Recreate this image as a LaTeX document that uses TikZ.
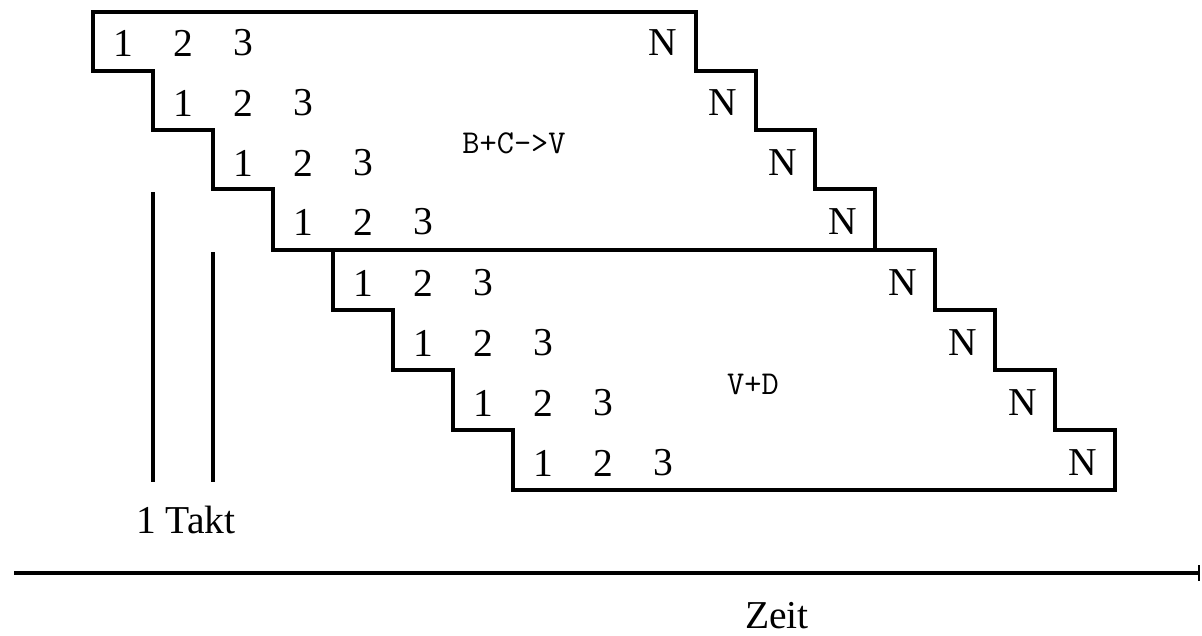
\documentclass[tikz,border=0pt]{standalone}
\usepackage{fontspec}
\setmainfont{Liberation Serif}
\usetikzlibrary{arrows.meta}
\begin{document}
\begin{tikzpicture}[x=0.02cm,y=-0.02cm,
  outline/.style={line width=2.3pt,line join=miter},
  num/.style={font=\fontsize{22.5}{27}\selectfont,inner sep=0pt,anchor=center},
  lbl/.style={font=\ttfamily\fontsize{19}{22}\selectfont,inner sep=0pt,anchor=center},
  tick/.style={line width=1.9pt},
  axis/.style={line width=2.3pt,-{Bar[width=9pt,line width=1.4pt]}}]
\useasboundingbox (0,0) rectangle (1202,635);
% upper block
\draw[outline] (93,12) -- (696,12) -- (696,71) -- (756,71) -- (756,130) -- (815,130) -- (815,189) -- (875,189) -- (875,250) -- (273,250) -- (273,189) -- (213,189) -- (213,130) -- (153,130) -- (153,71) -- (93,71) -- cycle;
% lower block
\draw[outline] (333,250) -- (935,250) -- (935,310) -- (995,310) -- (995,370) -- (1055,370) -- (1055,430) -- (1115,430) -- (1115,490) -- (513,490) -- (513,430) -- (453,430) -- (453,370) -- (393,370) -- (393,310) -- (333,310) -- cycle;
% numbers
\foreach \r/\yy in {0/43,1/103,2/163,3/222,4/283,5/343,6/403,7/463}{
  \pgfmathsetmacro{\xa}{123+60*\r}
  \node[num] (one\r) at (\xa,\yy) {1};
  \node[num] (two\r) at (\xa+60,\yy) {2};
  \node[num] (three\r) at (\xa+120,\yy) {3};
  \node[num] (n\r) at (\xa+540,\yy) {N};
}
\node[lbl] (bcv) at (514,143) {B+C->V};
\node[lbl] (vd) at (753,384) {V+D};
% takt lines
\coordinate (t1a) at (153,192);
\coordinate (t1b) at (153,482);
\coordinate (t2a) at (213,252);
\coordinate (t2b) at (213,482);
\draw[tick] (t1a) -- (t1b);
\draw[tick] (t2a) -- (t2b);
\node[num] (takt) at (186,520) {1 Takt};
% time axis
\coordinate (ax0) at (14,573);
\coordinate (ax1) at (1200,573);
\draw[axis] (ax0) -- (ax1);
\node[num] (zeit) at (777,616) {Zeit};
\end{tikzpicture}
\end{document}
